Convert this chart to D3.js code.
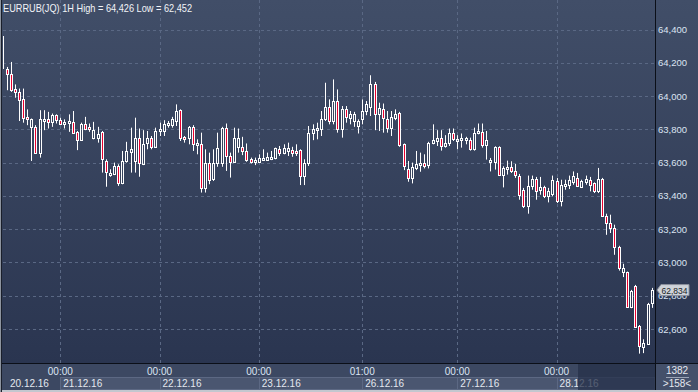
<!DOCTYPE html>
<html>
<head>
<meta charset="utf-8">
<script src="https://cdn.jsdelivr.net/npm/d3@7"></script>
<style>
  body { margin: 0; background: #2b3650; }
  svg { display: block; font-family: "Liberation Sans", Arial, sans-serif; }
</style>
</head>
<body>
<svg></svg>
<script>
//* Hourly EURRUB candles, 20.12.16 - 28.12.16
const width = 698;
const height = 392;
const plotRight = 655;
const axisTop = 363;

const title = "EURRUB(JQ) 1H High = 64,426 Low = 62,452";

const opens = [
  64360, 64160, 64135, 64040, 64025, 63985, 63875, 63815, 63815, 63660,
  63850, 63860, 63845, 63885, 63855, 63835, 63840, 63845, 63785, 63735,
  63830, 63815, 63745, 63750, 63785, 63610, 63525, 63530, 63580, 63480,
  63610, 63665, 63610, 63745, 63590, 63715, 63750, 63695, 63790, 63790,
  63825, 63825, 63850, 63915, 63755, 63750, 63815, 63705, 63710, 63445,
  63595, 63500, 63595, 63595, 63810, 63640, 63605, 63695, 63695, 63670,
  63620, 63605, 63605, 63615, 63615, 63620, 63625, 63680, 63660, 63670,
  63675, 63670, 63675, 63520, 63600, 63775, 63795, 63805, 63865, 63935,
  63850, 63970, 63800, 63925, 63870, 63850, 63820, 63865, 63910, 63935,
  64075, 63895, 63925, 63865, 63810, 63870, 63900, 63710, 63560, 63510,
  63570, 63590, 63600, 63585, 63715, 63730, 63745, 63700, 63720, 63780,
  63730, 63735, 63735, 63735, 63680, 63775, 63785, 63705, 63605, 63605,
  63692, 63528, 63564, 63572, 63552, 63522, 63437, 63341, 63457, 63502,
  63433, 63454, 63401, 63413, 63487, 63367, 63457, 63463, 63481, 63508,
  63454, 63481, 63497, 63478, 63427, 63502, 63281, 63240, 63207, 63092,
  62945, 62942, 62731, 62861, 62620, 62494, 62510, 62755];

const highs = [
  64370, 64175, 64205, 64070, 64045, 64045, 63920, 63865, 63825, 63915,
  63915, 63905, 63895, 63890, 63870, 63860, 63890, 63910, 63790, 63840,
  63875, 63835, 63845, 63815, 63790, 63620, 63560, 63600, 63590, 63670,
  63725, 63810, 63870, 63805, 63795, 63790, 63760, 63810, 63840, 63855,
  63850, 63875, 63950, 63920, 63760, 63820, 63825, 63740, 63780, 63680,
  63660, 63680, 63780, 63815, 63835, 63660, 63810, 63805, 63755, 63715,
  63630, 63630, 63650, 63680, 63660, 63670, 63690, 63700, 63710, 63720,
  63695, 63710, 63680, 63620, 63820, 63830, 63840, 63910, 64080, 63980,
  64100, 64040, 63940, 63940, 63910, 63905, 63860, 63980, 63970, 64125,
  64085, 63960, 63955, 63910, 63910, 63920, 63905, 63715, 63610, 63600,
  63670, 63660, 63650, 63725, 63830, 63795, 63795, 63765, 63805, 63805,
  63765, 63775, 63755, 63750, 63810, 63835, 63835, 63790, 63628, 63698,
  63698, 63578, 63612, 63608, 63592, 63532, 63448, 63522, 63522, 63514,
  63514, 63461, 63448, 63522, 63508, 63497, 63497, 63522, 63547, 63538,
  63497, 63522, 63514, 63481, 63568, 63508, 63293, 63287, 63227, 63100,
  62992, 62945, 62835, 62865, 62624, 62538, 62757, 62847];

const lows = [
  64160, 64035, 64025, 63990, 63850, 63840, 63825, 63610, 63655, 63630,
  63795, 63805, 63815, 63835, 63825, 63805, 63785, 63775, 63675, 63730,
  63795, 63785, 63740, 63720, 63540, 63455, 63515, 63525, 63460, 63470,
  63600, 63540, 63540, 63515, 63585, 63680, 63680, 63695, 63760, 63760,
  63810, 63810, 63820, 63730, 63720, 63710, 63670, 63650, 63420, 63420,
  63470, 63490, 63575, 63575, 63550, 63510, 63605, 63660, 63645, 63605,
  63595, 63585, 63600, 63610, 63610, 63615, 63620, 63640, 63650, 63640,
  63635, 63640, 63465, 63465, 63580, 63735, 63740, 63760, 63850, 63830,
  63830, 63780, 63750, 63840, 63830, 63815, 63775, 63830, 63885, 63880,
  63795, 63790, 63780, 63780, 63760, 63855, 63695, 63555, 63485, 63475,
  63555, 63545, 63565, 63565, 63710, 63700, 63672, 63690, 63700, 63730,
  63680, 63690, 63710, 63672, 63672, 63770, 63690, 63618, 63547, 63558,
  63525, 63451, 63528, 63538, 63508, 63377, 63327, 63293, 63437, 63377,
  63407, 63387, 63361, 63397, 63357, 63337, 63437, 63441, 63467, 63457,
  63447, 63467, 63427, 63417, 63417, 63273, 63166, 63177, 63046, 62951,
  62912, 62728, 62725, 62610, 62452, 62455, 62504, 62727];

const closes = [
  64170, 64135, 64035, 64025, 63975, 63870, 63865, 63860, 63660, 63860,
  63860, 63845, 63885, 63855, 63835, 63845, 63850, 63780, 63735, 63835,
  63805, 63800, 63795, 63770, 63620, 63545, 63540, 63580, 63475, 63610,
  63670, 63680, 63745, 63595, 63710, 63750, 63695, 63790, 63800, 63835,
  63840, 63860, 63910, 63745, 63740, 63815, 63710, 63715, 63445, 63595,
  63495, 63595, 63685, 63810, 63640, 63605, 63745, 63745, 63670, 63615,
  63605, 63615, 63625, 63630, 63635, 63635, 63685, 63660, 63690, 63685,
  63655, 63655, 63520, 63600, 63775, 63800, 63810, 63865, 63935, 63850,
  63970, 63800, 63925, 63875, 63890, 63895, 63850, 63910, 63950, 64070,
  63895, 63930, 63870, 63810, 63875, 63890, 63705, 63580, 63505, 63575,
  63590, 63600, 63580, 63720, 63735, 63745, 63700, 63715, 63775, 63740,
  63740, 63745, 63750, 63680, 63780, 63790, 63705, 63735, 63618, 63695,
  63528, 63568, 63576, 63552, 63524, 63407, 63341, 63461, 63502, 63427,
  63454, 63401, 63427, 63493, 63367, 63467, 63473, 63493, 63517, 63461,
  63487, 63502, 63467, 63427, 63502, 63281, 63237, 63207, 63092, 62966,
  62966, 62731, 62829, 62614, 62498, 62518, 62749, 62834];

const priceTicks = [62600, 62800, 63000, 63200, 63400, 63600, 63800, 64000, 64200, 64400];

// candle index where each new day starts
const dayStarts = [14, 38, 62, 87, 110, 134];
const timeLabels = ["00:00", "00:00", "00:00", "01:00", "00:00", "00:00"];
const dateLabels = ["21.12.16", "22.12.16", "23.12.16", "26.12.16", "27.12.16", "28.12.16"];
const firstDate = "20.12.16";
const barsTotal = "1382";
const barsShown = ">158<";

const x = d3.scaleLinear()
  .domain([0, opens.length - 1])
  .range([2.4, 651.7]);

const y = d3.scaleLinear()
  .domain([62600, 64400])
  .range([329, 29.5]);

const fmt = d3.format(",");
const crisp = v => Math.round(v) + 0.5;

const svg = d3.select("svg")
  .attr("width", width)
  .attr("height", height);

const defs = svg.append("defs");
const grad = defs.append("linearGradient")
  .attr("id", "bg")
  .attr("x1", 0).attr("y1", 0)
  .attr("x2", 0).attr("y2", 1);
grad.append("stop").attr("offset", 0).attr("stop-color", "#414e68");
grad.append("stop").attr("offset", 1).attr("stop-color", "#2a3550");

defs.append("clipPath")
  .attr("id", "plot-clip")
  .append("rect")
    .attr("x", 3).attr("y", 0)
    .attr("width", plotRight - 3).attr("height", axisTop);

// backgrounds
svg.append("rect")
  .attr("width", width).attr("height", axisTop)
  .attr("fill", "url(#bg)");

svg.append("rect")
  .attr("y", axisTop).attr("width", width).attr("height", height - axisTop)
  .attr("fill", "#3c4862");

//* grid
const grid = svg.append("g")
  .attr("stroke", "#5a6884")
  .attr("stroke-dasharray", "3,3");

grid.selectAll(".hgrid")
  .data(priceTicks)
  .enter()
  .append("line")
    .attr("x1", 3).attr("x2", plotRight)
    .attr("y1", d => crisp(y(d))).attr("y2", d => crisp(y(d)));

grid.selectAll(".vgrid")
  .data(dayStarts)
  .enter()
  .append("line")
    .attr("x1", d => crisp(x(d))).attr("x2", d => crisp(x(d)))
    .attr("y1", 0).attr("y2", axisTop);

//* candles
const candles = svg.append("g")
  .attr("clip-path", "url(#plot-clip)")
  .selectAll("g")
  .data(opens.map((o, i) => ({i, o, h: highs[i], l: lows[i], c: closes[i]})))
  .enter()
  .append("g");

candles.each(function(d) {
  const g = d3.select(this);
  const px = Math.round(x(d.i));
  const top = crisp(y(Math.max(d.o, d.c)));
  let bottom = crisp(y(Math.min(d.o, d.c)));
  if (bottom - top < 2) bottom = top + 2;

  g.append("line")
    .attr("x1", px + 0.5).attr("x2", px + 0.5)
    .attr("y1", y(d.h)).attr("y2", top)
    .attr("stroke", "#ffffff");
  g.append("line")
    .attr("x1", px + 0.5).attr("x2", px + 0.5)
    .attr("y1", bottom).attr("y2", y(d.l))
    .attr("stroke", "#ffffff");
  g.append("rect")
    .attr("x", px - 0.5)
    .attr("y", top)
    .attr("width", 2)
    .attr("height", bottom - top)
    .attr("fill", d.c < d.o ? "#e8002e" : "none")
    .attr("stroke", "#ffffff");
});

//* title
svg.append("text")
  .attr("x", 3).attr("y", 12)
  .attr("font-size", "10.5px")
  .attr("fill", "#f2f4f8")
  .attr("textLength", 189)
  .attr("lengthAdjust", "spacingAndGlyphs")
  .text(title);

//* price axis
svg.selectAll(".price-label")
  .data(priceTicks)
  .enter()
  .append("text")
    .attr("x", 658)
    .attr("y", d => y(d) + 3.5)
    .attr("font-size", "9.5px")
    .attr("fill", "#dbe4f2")
    .text(d => fmt(d));

// last price marker
const lastY = y(closes[closes.length - 1]);
svg.append("path")
  .attr("d", `M657,${lastY} L661,${lastY - 5.5} L689,${lastY - 5.5} L689,${lastY + 5.5} L661,${lastY + 5.5} Z`)
  .attr("fill", "#cfd3d9")
  .attr("stroke", "#8b919c");
svg.append("text")
  .attr("x", 661.5).attr("y", lastY + 3.5)
  .attr("font-size", "9.5px")
  .attr("fill", "#1b1f27")
  .attr("textLength", 26)
  .attr("lengthAdjust", "spacingAndGlyphs")
  .text(fmt(closes[closes.length - 1]));

//* time axis
const cellEdges = dayStarts.map(d => crisp(x(d)));
svg.selectAll(".date-cell")
  .data(cellEdges)
  .enter()
  .append("rect")
    .attr("x", d => d)
    .attr("y", 377.5)
    .attr("width", (d, i) => (i < cellEdges.length - 1 ? cellEdges[i + 1] : plotRight) - d)
    .attr("height", 12)
    .attr("fill", "#4a5670")
    .attr("stroke", "#5c6883");

svg.selectAll(".time-label")
  .data(dayStarts)
  .enter()
  .append("text")
    .attr("x", d => x(d))
    .attr("y", 375)
    .attr("text-anchor", "middle")
    .attr("font-size", "10px")
    .attr("fill", "#dbe4f2")
    .text((d, i) => timeLabels[i]);

svg.append("text")
  .attr("x", 10).attr("y", 387)
  .attr("font-size", "10px")
  .attr("fill", "#e4e8ef")
  .text(firstDate);

svg.selectAll(".date-label")
  .data(dayStarts)
  .enter()
  .append("text")
    .attr("x", d => x(d) + 3)
    .attr("y", 387)
    .attr("font-size", "10px")
    .attr("fill", "#e4e8ef")
    .text((d, i) => dateLabels[i]);

// scroller shade over the last day
svg.append("rect")
  .attr("x", 578).attr("y", 364)
  .attr("width", plotRight - 578).attr("height", 26)
  .attr("fill", "#253049")
  .attr("fill-opacity", 0.75);

// bar counter box
svg.append("rect")
  .attr("x", 656).attr("y", 364)
  .attr("width", width - 656).attr("height", 26)
  .attr("fill", "#44506a");
svg.append("text")
  .attr("x", 677).attr("y", 374)
  .attr("text-anchor", "middle")
  .attr("font-size", "10px")
  .attr("fill", "#e4e8ef")
  .text(barsTotal);
svg.append("line")
  .attr("x1", 666).attr("x2", 689)
  .attr("y1", 377.5).attr("y2", 377.5)
  .attr("stroke", "#9aa4b6");
svg.append("text")
  .attr("x", 677).attr("y", 387)
  .attr("text-anchor", "middle")
  .attr("font-size", "10px")
  .attr("fill", "#e4e8ef")
  .text(barsShown);

// frame lines
svg.append("line")
  .attr("x1", 0).attr("x2", width)
  .attr("y1", axisTop + 0.5).attr("y2", axisTop + 0.5)
  .attr("stroke", "#0b0f18");
svg.append("line")
  .attr("x1", plotRight + 0.5).attr("x2", plotRight + 0.5)
  .attr("y1", 0).attr("y2", height)
  .attr("stroke", "#0b0f18");
svg.append("rect")
  .attr("y", 390).attr("width", width).attr("height", 2)
  .attr("fill", "#c3c7cf");
svg.append("rect")
  .attr("width", 2).attr("height", height)
  .attr("fill", "#1a1f2b");
svg.append("rect")
  .attr("width", 1).attr("height", height)
  .attr("fill", "#8d949f");
</script>
</body>
</html>
